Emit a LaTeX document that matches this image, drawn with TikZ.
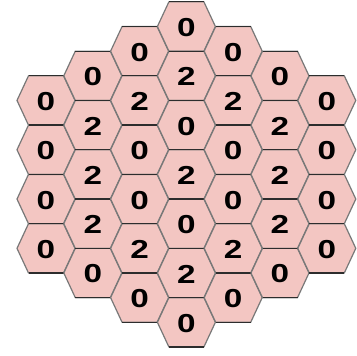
\documentclass[tikz,border=0pt]{standalone}
\usepackage{fontspec}
\usepackage{graphicx}
\setmainfont{Liberation Sans}
\definecolor{hexfill}{RGB}{243,198,194}
\definecolor{slantline}{RGB}{120,120,120}
\definecolor{flatline}{RGB}{45,45,45}
\tikzset{
  hexcell/.style={fill=hexfill, draw=slantline, line width=1.2pt, line join=round},
  hexflat/.style={draw=flatline, line width=1.3pt},
  digit/.style={font=\bfseries\fontsize{26}{26}\selectfont, text=black, inner sep=0pt}
}
\begin{document}
\begin{tikzpicture}[x=1pt,y=-1pt]
\useasboundingbox[fill=white] (0,0) rectangle (357,356);
\def\hexw{29}
\def\hext{17.5}
\def\hexh{24.65}
\foreach \c/\vals in {0/{0,0,0,0},1/{0,2,2,2,0},2/{0,2,0,0,2,0},3/{0,2,0,2,0,2,0},4/{0,2,0,0,2,0},5/{0,2,2,2,0},6/{0,0,0,0}}{
  \pgfmathsetmacro{\kk}{abs(\c-3)}
  \pgfmathsetmacro{\cx}{46+\c*46.8}
  \foreach \v [count=\r from 0] in \vals {
    \pgfmathsetmacro{\cy}{26.5+(\kk/2+\r)*49.3}
    \path[hexcell] (\cx-\hexw,\cy) -- (\cx-\hext,\cy-\hexh) -- (\cx+\hext,\cy-\hexh) -- (\cx+\hexw,\cy) -- (\cx+\hext,\cy+\hexh) -- (\cx-\hext,\cy+\hexh) -- cycle;
    \draw[hexflat] (\cx-\hext,\cy-\hexh) -- (\cx+\hext,\cy-\hexh);
    \draw[hexflat] (\cx-\hext,\cy+\hexh) -- (\cx+\hext,\cy+\hexh);
    \node[digit] (h-\c-\r) at (\cx,\cy+1) {\scalebox{1.28}[1]{\v}};
  }
}
\end{tikzpicture}
\end{document}
